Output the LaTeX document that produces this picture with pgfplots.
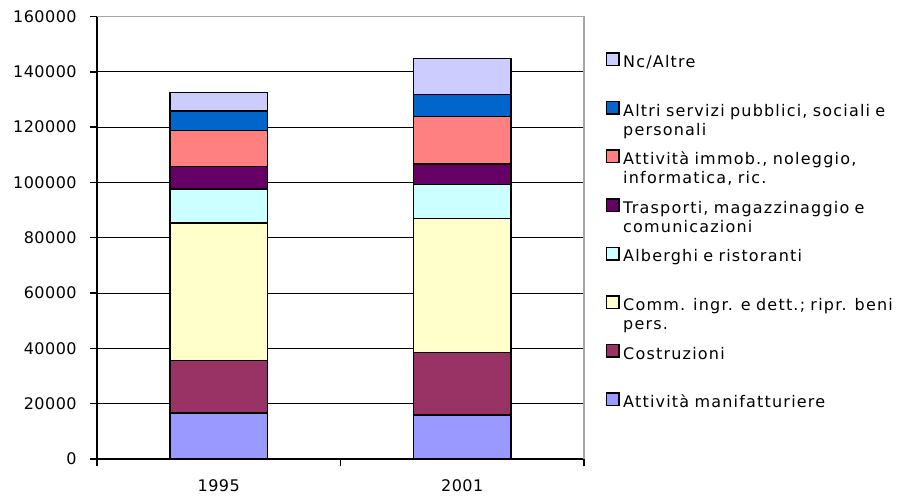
\documentclass[border=0pt]{standalone}
\usepackage{fontspec}
\setmainfont{DejaVu Sans}[LetterSpace=3]
\newfontfamily\legfont{DejaVu Sans}[LetterSpace=7.5, WordSpace=1.5]
\usepackage{pgfplots}
\pgfplotsset{compat=1.18}
\definecolor{cManif}{HTML}{9999FF}
\definecolor{cCostr}{HTML}{993366}
\definecolor{cComm}{HTML}{FFFFCC}
\definecolor{cAlb}{HTML}{CCFFFF}
\definecolor{cTrasp}{HTML}{660066}
\definecolor{cImmob}{HTML}{FF8080}
\definecolor{cAltri}{HTML}{0066CC}
\definecolor{cNc}{HTML}{CCCCFF}
\begin{document}
\begin{tikzpicture}
\useasboundingbox (-72.75pt,-28.1pt) rectangle (609pt,344.3pt);
\begin{axis}[
  at={(0,0)}, anchor=south west,
  scale only axis, width=365.25pt, height=331.9pt,
  ybar stacked, bar width=0.4,
  xmin=-0.5, xmax=1.5, ymin=0, ymax=160000,
  font=\fontsize{12}{14}\selectfont,
  axis lines*=left,
  axis line style={line width=1.3pt, black},
  separate axis lines,
  x axis line style={-}, y axis line style={-},
  tick align=outside, major tick length=5.25pt,
  tick style={black, line width=1pt},
  xtick={-0.5,0.5,1.5}, xticklabels={},
  extra x ticks={0,1}, extra x tick labels={1995,2001},
  extra x tick style={major tick length=0pt, grid=none, xticklabel style={yshift=-12pt}},
  ytick={0,20000,...,160000},
  scaled y ticks=false,
  yticklabel style={/pgf/number format/fixed, /pgf/number format/1000 sep={}, xshift=-6.5pt},
  /pgf/number format/assume math mode=true,
  ymajorgrids, grid style={black, line width=0.9pt},
  every axis plot/.append style={draw=black, line width=1.1pt},
  legend image code/.code={\draw[#1, draw=black, line width=1.1pt] (0pt,1.4pt) rectangle (9.4pt,10.8pt);},
  reverse legend,
  legend style={draw=none, fill=none, at={(rel axis cs:1,1)}, anchor=north west,
    xshift=16.3pt, yshift=-26.8pt, inner sep=0pt, outer sep=0pt, row sep=0pt, column sep=2.6pt,
    font=\legfont\fontsize{12}{14.5}\selectfont,
    nodes={text height=9pt, text depth=25.1pt, text width=250pt, align=left, anchor=base west, inner sep=0pt}},
  legend cell align=left,
  after end axis/.code={\draw[gray!70, line width=0.8pt] (rel axis cs:0,1) -- (rel axis cs:1,1) -- (rel axis cs:1,0);},
]
\addplot[fill=cManif] coordinates {(0,16700) (1,15900)};
\addlegendentry{Attività manifatturiere}
\addplot[fill=cCostr] coordinates {(0,18900) (1,22600)};
\addlegendentry{Costruzioni}
\addplot[fill=cComm] coordinates {(0,49800) (1,48400)};
\addlegendentry{Comm. ingr. e dett.; ripr. beni\\pers.}
\addplot[fill=cAlb] coordinates {(0,12200) (1,12300)};
\addlegendentry{Alberghi e ristoranti}
\addplot[fill=cTrasp] coordinates {(0,8200) (1,7500)};
\addlegendentry{Trasporti, magazzinaggio e\\comunicazioni}
\addplot[fill=cImmob] coordinates {(0,13000) (1,17200)};
\addlegendentry{Attività immob., noleggio,\\informatica, ric.}
\addplot[fill=cAltri] coordinates {(0,7100) (1,7900)};
\addlegendentry{Altri servizi pubblici, sociali e\\personali}
\addplot[fill=cNc] coordinates {(0,6700) (1,13000)};
\addlegendentry{Nc/Altre}
\end{axis}
\end{tikzpicture}
\end{document}
